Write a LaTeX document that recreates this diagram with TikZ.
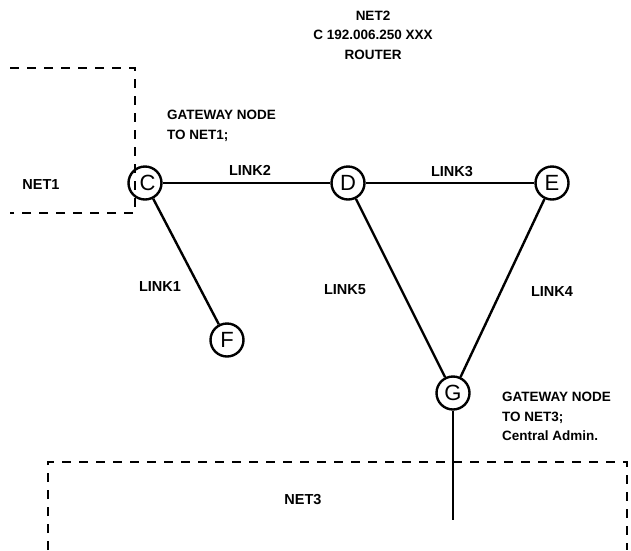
\documentclass[tikz,border=0pt]{standalone}
\usepackage{fontspec}
\setmainfont{Liberation Sans}
\usetikzlibrary{positioning,calc}

\begin{document}
\begin{tikzpicture}[x=1pt, y=-1pt,
  rtr/.style={draw, circle, line width=2.4pt, minimum size=33pt, inner sep=0pt,
              font=\fontsize{22}{22}\selectfont},
  lbl/.style={font=\bfseries\fontsize{13.5}{19.5}\selectfont, inner sep=0pt},
  linkname/.style={font=\bfseries\fontsize{14.5}{16}\selectfont, inner sep=0pt},
  wire/.style={line width=2.4pt},
  netedge/.style={line width=2.8pt, dash pattern=on 9pt off 8pt},
]
\useasboundingbox (0,0) rectangle (631,550);

% router nodes
\node[rtr] (c) at (145,183) {\hspace*{5pt}C};
\node[rtr] (d) at (348,183) {D};
\node[rtr] (e) at (552,183) {E};
\node[rtr] (f) at (227,340) {F};
\node[rtr] (g) at (453,393) {G};
\coordinate (gend) at (453,520);

\draw[wire] (c) -- (d);
\draw[wire] (d) -- (e);
\draw[wire] (c) -- (f);
\draw[wire] (d) -- (g);
\draw[wire] (e) -- (g);
\draw[wire] (g) -- (gend);

% network borders
\draw[netedge] (10,68) -- (135,68) -- (135,213) -- (10,213);
\draw[netedge] (48,550) -- (48,462) -- (627,462) -- (627,550);

\node[linkname] (l1) at (160,287) {LINK1};
\node[linkname] (l2) at (250,170) {LINK2};
\node[linkname] (l3) at (452,172) {LINK3};
\node[linkname] (l4) at (552,292) {LINK4};
\node[linkname] (l5) at (345,290) {LINK5};

\node[linkname] (net1) at (41,185) {NET1};
\node[linkname] (net3) at (303,500) {NET3};
\node[lbl, align=center] (net2) at (373,35) {NET2\\C 192.006.250 XXX\\ROUTER};

\node[lbl, align=left, anchor=north west] (gw1) at (167,110) {GATEWAY NODE\\TO NET1;};
\node[lbl, align=left, anchor=north west] (gw3) at (502,392) {GATEWAY NODE\\TO NET3;\\Central Admin.};

\end{tikzpicture}
\end{document}
